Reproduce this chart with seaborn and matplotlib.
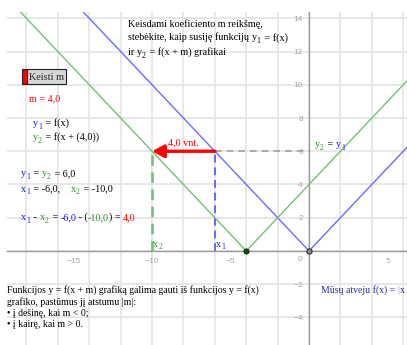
import numpy as np
import pandas as pd
import seaborn as sns
import matplotlib
matplotlib.use("Agg")
import matplotlib.pyplot as plt
from matplotlib.transforms import IdentityTransform
from matplotlib.ticker import FixedLocator, MultipleLocator
from matplotlib.patches import Rectangle

# ---- values shown on the chart ----
m_value = 4.0
y_level = 6.0
x1_value = -6.0
x2_value = -10.0

# y1 = f(x) = |x|  (vertices of the polyline)
f_x = [-16.0, 0.0, 8.0]
f_y = [16.0, 0.0, 8.0]
# y2 = f(x + m) = |x + 4|
g_x = [-20.0, -4.0, 8.0]
g_y = [16.0, 0.0, 12.0]

x_tick_labels = [-15, -10, -5, 5]
y_tick_labels = [-4, -2, 2, 4, 6, 8, 10, 12, 14]

W, H = 407, 345
BLUE_LINE = "#6b6bff"
GREEN_LINE = "#74c074"
BLUE_TXT = "#1a1aff"
GREEN_TXT = "#2a922a"
RED = "#ff0000"
GRAY = "#a6a6a6"
K = "black"
SERIF = "Liberation Serif"

sns.set_style("white")
plt.rcParams["font.family"] = [SERIF, "DejaVu Serif"]


def num(v):
    return f"{v:.1f}".replace(".", ",")


fig = plt.figure(figsize=(W / 100, H / 100), dpi=100)
fig.patch.set_facecolor("white")
ax = fig.add_axes([7 / W, 0, (W - 7) / W, (H - 12) / H])
ax.set_xlim(-19.24, 6.24)
ax.set_ylim(-5.66, 14.38)
ax.set_facecolor("white")

# grid every 2 units
for gx in np.arange(-18, 7, 2):
    ax.axvline(gx, color="#e6e6e6", lw=1.3, zorder=0)
for gy in np.arange(-4, 15, 2):
    ax.axhline(gy, color="#e6e6e6", lw=1.3, zorder=0)

# axes through the origin
for side in ("top", "right"):
    ax.spines[side].set_visible(False)
for side in ("left", "bottom"):
    ax.spines[side].set_position(("data", 0))
    ax.spines[side].set_color("#9a9a9a")
    ax.spines[side].set_linewidth(1.0)
    ax.spines[side].set_zorder(1)
ax.xaxis.set_major_locator(FixedLocator(x_tick_labels))
ax.xaxis.set_minor_locator(MultipleLocator(1))
ax.yaxis.set_major_locator(FixedLocator(y_tick_labels))
ax.yaxis.set_minor_locator(MultipleLocator(1))
ax.tick_params(which="both", direction="inout", length=6, width=0.9, color="#9a9a9a")
ax.tick_params(axis="x", which="major", labelsize=6, labelcolor=GRAY, pad=2)
ax.tick_params(axis="y", which="major", labelsize=6, labelcolor=GRAY, pad=1.5)
for lab in ax.get_xticklabels() + ax.get_yticklabels():
    lab.set_family("Liberation Sans")
ax.text(-0.45, -0.3, "0", ha="right", va="top", color=GRAY, fontsize=6,
        family="Liberation Sans")

# the two functions
df = pd.DataFrame({
    "x": f_x + g_x,
    "y": f_y + g_y,
    "fn": ["y1"] * len(f_x) + ["y2"] * len(g_x),
})
sns.lineplot(data=df, x="x", y="y", hue="fn", sort=False, estimator=None,
             palette={"y1": BLUE_LINE, "y2": GREEN_LINE}, legend=False,
             lw=1.0, ax=ax, zorder=3)
ax.set_xlabel("")
ax.set_ylabel("")

# vertices
ax.scatter([g_x[1]], [g_y[1]], s=14, color="#0b4f0b", edgecolors="#022a02",
           linewidths=0.6, zorder=5)
ax.scatter([f_x[1]], [f_y[1]], s=14, color="#8a8a8a", edgecolors="#333333",
           linewidths=0.8, zorder=5)

# helper lines for y1 = y2 = 6
ax.plot([x1_value, 0], [y_level, y_level], color="#a0a0a0", lw=1.2,
        ls=(0, (4, 3)), zorder=2)
ax.plot([x1_value, x1_value], [0, y_level], color="#6666ff", lw=1.4,
        ls=(0, (4, 2.5)), zorder=2)
ax.plot([x2_value, x2_value], [0, y_level], color=GREEN_LINE, lw=1.9,
        ls=(0, (4, 2.5)), zorder=2)

# shift arrow
ax.annotate("", xy=(x2_value, y_level), xytext=(x1_value, y_level),
            arrowprops=dict(arrowstyle="-|>,head_length=0.7,head_width=0.38",
                            color=RED, lw=2.4, shrinkA=0, shrinkB=0),
            zorder=6)
ax.text((x1_value + x2_value) / 2, y_level + 0.22, f"{num(x1_value - x2_value)} vnt.",
        color=RED, ha="center", va="bottom", fontsize=7.3)

renderer = fig.canvas.get_renderer()


def _width(s, size):
    t = fig.text(0, 0, s, fontsize=size, transform=IdentityTransform())
    w = t.get_window_extent(renderer).width
    t.remove()
    return w


def _advance(s, size):
    return _width("l" + s + "l", size) - _width("ll", size)


def rich(x, y_top, parts, size):
    """Draw coloured pieces of one line; x, y_top in pixels from the top-left.
    A part is (text, colour) or (text, colour, True) for a subscript."""
    cx = x
    px_size = size * 100 / 72
    for part in parts:
        s, c = part[0], part[1]
        is_sub = len(part) > 2 and part[2]
        sz = size * 0.78 if is_sub else size
        dy = -0.26 * px_size if is_sub else 0.0
        fig.text(cx, H - y_top + dy, s, color=c, fontsize=sz, va="baseline",
                 ha="left", transform=IdentityTransform(), zorder=10)
        cx += _advance(s, sz) + (1.0 if is_sub else 0.0)


def var(name, idx, color):
    return [(name, color), (str(idx), color, True)]


def to_px(xd, yd):
    px, py = ax.transData.transform((xd, yd))
    return px, H - py


# point labels on the x axis
rich(*to_px(x1_value + 0.08, 0.25), var("x", 1, BLUE_TXT), 7.3)
rich(*to_px(x2_value + 0.08, 0.25), var("x", 2, GREEN_TXT), 7.3)

# heading
rich(128, 26.7, [("Keisdami koeficiento m reikšmę,", K)], 7.3)
rich(128, 40.5, [("stebėkite, kaip susiję funkcijų ", K)] + var("y", 1, K)
     + [(" = f(x)", K)], 7.3)
rich(128, 55, [("ir ", K)] + var("y", 2, K) + [(" = f(x + m) grafikai", K)], 7.3)

# button
fig.add_artist(Rectangle((27, H - 84), 39, 15, transform=IdentityTransform(),
                         facecolor="#d6d6d6", edgecolor="#222222", lw=0.8))
fig.add_artist(Rectangle((22, H - 84), 5, 15, transform=IdentityTransform(),
                         facecolor=RED, edgecolor="#222222", lw=0.8))
fig.text(46.5, H - 80.5, "Keisti m", fontsize=7.4, ha="center", va="baseline",
         transform=IdentityTransform())

# left panel
rich(29, 101, [(f"m = {num(m_value)}", RED)], 7.3)
rich(33, 126, var("y", 1, BLUE_TXT) + [(" = f(x)", K)], 7.3)
rich(33, 140, var("y", 2, GREEN_TXT) + [(f" = f(x + ({num(m_value)}))", K)], 7.3)
rich(21, 176, var("y", 1, BLUE_TXT) + [(" = ", K)] + var("y", 2, GREEN_TXT)
     + [(f" = {num(y_level)}", K)], 7.3)
rich(21, 191.5, var("x", 1, BLUE_TXT) + [(f" = {num(x1_value)},", K)], 7.3)
rich(71, 191.5, var("x", 2, GREEN_TXT) + [(f" = {num(x2_value)}", K)], 7.3)
rich(21, 220, var("x", 1, BLUE_TXT) + [(" - ", K)] + var("x", 2, GREEN_TXT)
     + [(" = ", K), (num(x1_value), BLUE_TXT), (" - (", K),
        (num(x2_value), GREEN_TXT), (") = ", K),
        (num(x1_value - x2_value), RED)], 7.3)

# y2 = y1 label next to the lines
rich(*to_px(0.38, 6.25), var("y", 2, GREEN_TXT) + [(" = ", K)]
     + var("y", 1, BLUE_TXT), 7.3)

# explanation at the bottom
rich(7, 293, [("Funkcijos y = f(x + m) grafiką galima gauti iš funkcijos y = f(x)", K)], 7.0)
rich(7, 305, [("grafiko, pastūmus jį atstumu |m|:", K)], 7.0)
rich(7, 316.5, [("• į dešinę, kai m < 0;", K)], 7.0)
rich(7, 327, [("• į kairę, kai m > 0.", K)], 7.0)
rich(321, 293, [("Mūsų atveju f(x) = ", "#2b2ba0"), ("|", "#8a8ad0"),
                ("x", "#2b2ba0")], 7.0)

fig.savefig("out.png", dpi=100, facecolor="white")
